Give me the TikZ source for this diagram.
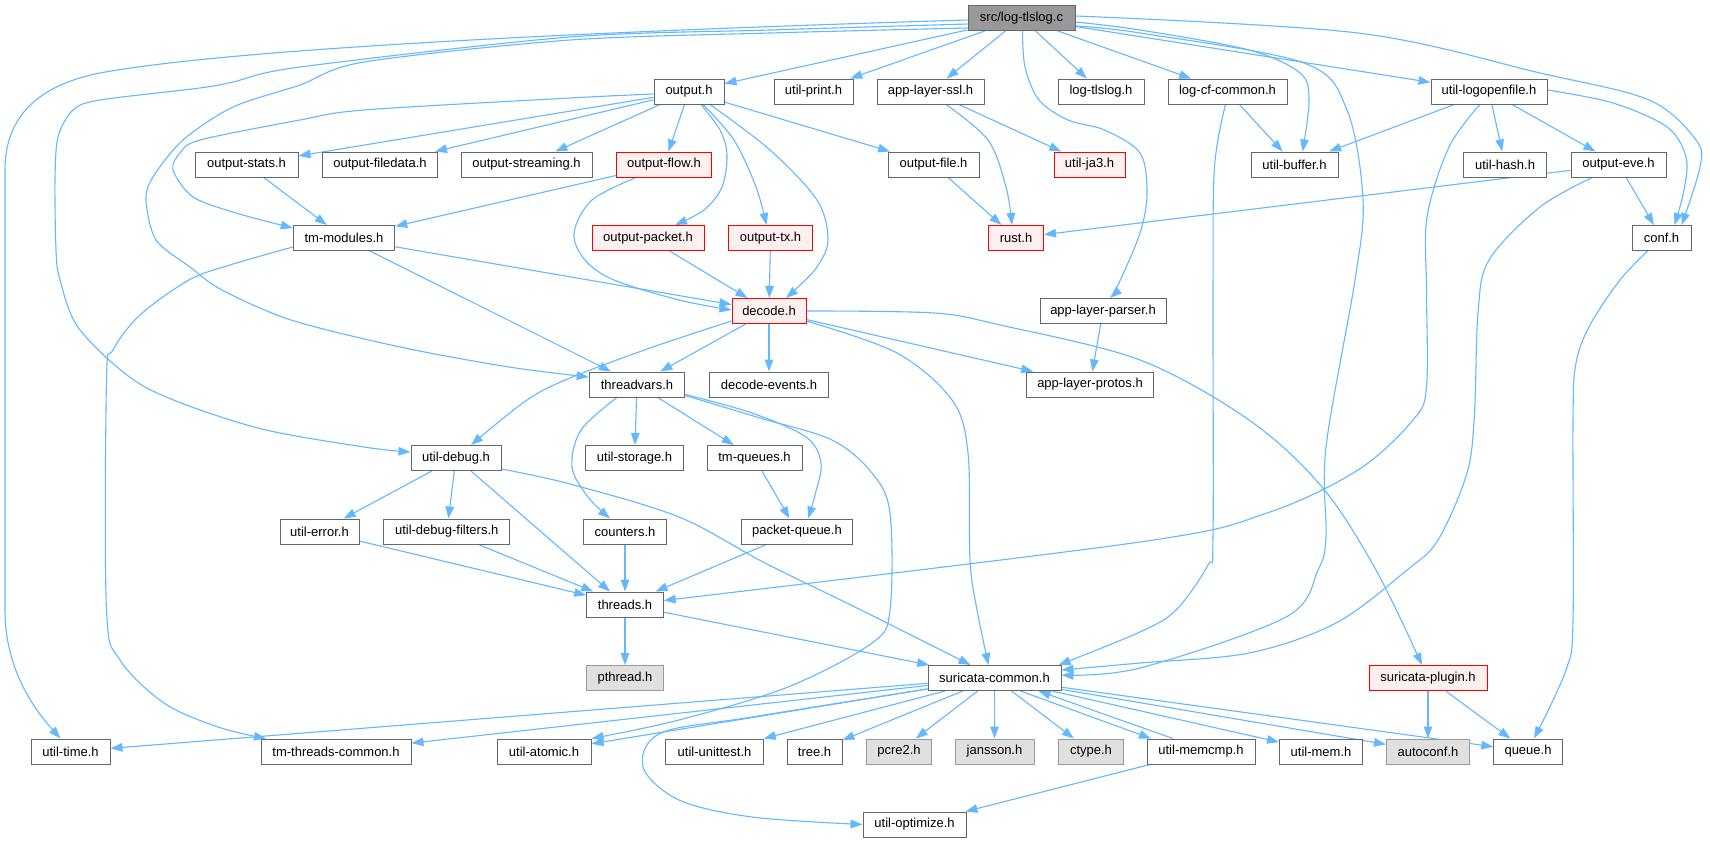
\documentclass[tikz,border=0pt]{standalone}
\usepackage{fontspec}
\setmainfont{Liberation Sans}
\usetikzlibrary{arrows.meta}
\pgfdeclarelayer{bg}
\pgfsetlayers{bg,main}
\definecolor{edgec}{HTML}{63B8FF}
\definecolor{bordc}{HTML}{666666}
\definecolor{rootfill}{HTML}{999999}
\definecolor{redb}{HTML}{FF0000}
\definecolor{redf}{HTML}{FFF0F0}
\definecolor{grayf}{HTML}{E0E0E0}
\definecolor{grayb}{HTML}{999999}
\tikzset{
  box/.style={draw=bordc, fill=white, line width=1pt, minimum height=25pt, inner sep=0pt, font=\fontsize{13}{15}\selectfont, text=black},
  rootbox/.style={box, fill=rootfill},
  redbox/.style={box, draw=redb, fill=redf},
  graybox/.style={box, draw=grayb, fill=grayf},
  edge/.style={draw=edgec, line width=1.1pt, -{Triangle[length=12pt,width=8.5pt]}}
}
\begin{document}
\begin{tikzpicture}[x=1pt,y=-1pt]
\useasboundingbox (0,0) rectangle (1710,843);
% nodes
\node[rootbox, minimum width=107pt] (root) at (1021.5,18) {src/log-tlslog.c};
\node[box, minimum width=70pt] (output) at (689,91.5) {output.h};
\node[box, minimum width=79pt] (uprint) at (813.5,91.5) {util-print.h};
\node[box, minimum width=107pt] (appssl) at (930.5,91.5) {app-layer-ssl.h};
\node[box, minimum width=86pt] (ltlsh) at (1101,91.5) {log-tlslog.h};
\node[box, minimum width=119pt] (logcf) at (1227.5,91.5) {log-cf-common.h};
\node[box, minimum width=116pt] (logopen) at (1489,91.5) {util-logopenfile.h};
\node[box, minimum width=103pt] (ostats) at (246.5,164.5) {output-stats.h};
\node[box, minimum width=115pt] (ofiledata) at (380,164.5) {output-filedata.h};
\node[box, minimum width=131pt] (ostream) at (526.5,164.5) {output-streaming.h};
\node[redbox, minimum width=95pt] (oflow) at (664,164.5) {output-flow.h};
\node[box, minimum width=91pt] (ofile) at (933.5,164.5) {output-file.h};
\node[redbox, minimum width=71pt] (ja3) at (1089.5,164.5) {util-ja3.h};
\node[box, minimum width=87pt] (ubuffer) at (1294.5,164.5) {util-buffer.h};
\node[box, minimum width=82.5pt] (uhash) at (1505,164.5) {util-hash.h};
\node[box, minimum width=95pt] (oeve) at (1618.5,164.5) {output-eve.h};
\node[box, minimum width=101.5pt] (tmmod) at (344,238) {tm-modules.h};
\node[redbox, minimum width=112pt] (opacket) at (648,238) {output-packet.h};
\node[redbox, minimum width=84pt] (otx) at (770.5,238) {output-tx.h};
\node[redbox, minimum width=55pt] (rust) at (1016,238) {rust.h};
\node[box, minimum width=59pt] (conf) at (1661.5,238) {conf.h};
\node[redbox, minimum width=74pt] (decode) at (769,311) {decode.h};
\node[box, minimum width=126pt] (aparser) at (1103,311) {app-layer-parser.h};
\node[box, minimum width=95.5pt] (threadvars) at (637,384.5) {threadvars.h};
\node[box, minimum width=119pt] (devents) at (769,384.5) {decode-events.h};
\node[box, minimum width=127pt] (aprotos) at (1090,384.5) {app-layer-protos.h};
\node[box, minimum width=90pt] (udebug) at (456,458) {util-debug.h};
\node[box, minimum width=98pt] (ustorage) at (634.5,458) {util-storage.h};
\node[box, minimum width=95pt] (tmqueues) at (754.5,458) {tm-queues.h};
\node[box, minimum width=79pt] (uerror) at (319.5,531.5) {util-error.h};
\node[box, minimum width=125.5pt] (udfilters) at (446.7,531.5) {util-debug-filters.h};
\node[box, minimum width=83pt] (counters) at (625,531.5) {counters.h};
\node[box, minimum width=111pt] (pqueue) at (797,531.5) {packet-queue.h};
\node[box, minimum width=76.5pt] (threads) at (625,604.5) {threads.h};
\node[graybox, minimum width=76.5pt] (pthread) at (625,678) {pthread.h};
\node[box, minimum width=133pt] (scommon) at (994.5,678) {suricata-common.h};
\node[redbox, minimum width=118pt] (splugin) at (1428,678) {suricata-plugin.h};
\node[box, minimum width=79pt] (utime) at (70.5,751.5) {util-time.h};
\node[box, minimum width=150pt] (tmtc) at (336,751.5) {tm-threads-common.h};
\node[box, minimum width=94pt] (uatomic) at (544,751.5) {util-atomic.h};
\node[box, minimum width=97.5pt] (uunittest) at (714.5,751.5) {util-unittest.h};
\node[box, minimum width=55pt] (tree) at (814.5,751.5) {tree.h};
\node[graybox, minimum width=65.5pt] (pcre) at (899,751.5) {pcre2.h};
\node[graybox, minimum width=79pt] (jansson) at (994.5,751.5) {jansson.h};
\node[graybox, minimum width=65.5pt] (ctype) at (1091,751.5) {ctype.h};
\node[box, minimum width=108pt] (umemcmp) at (1201,751.5) {util-memcmp.h};
\node[box, minimum width=83pt] (umem) at (1321,751.5) {util-mem.h};
\node[graybox, minimum width=83pt] (autoconf) at (1428,751.5) {autoconf.h};
\node[box, minimum width=68.5pt] (queue) at (1528,751.5) {queue.h};
\node[box, minimum width=103pt] (uoptimize) at (914.5,824.5) {util-optimize.h};
\begin{pgfonlayer}{bg}
\fill[white] (0,0) rectangle (1710,843);
% straight edges
\draw[edge] (root) -- (output);
\draw[edge] (root) -- (uprint);
\draw[edge] (root) -- (appssl);
\draw[edge] (root) -- (ltlsh);
\draw[edge] (root) -- (logcf);
\draw[edge] (root) -- (logopen);
\draw[edge] (output) -- (ostats);
\draw[edge] (output) -- (ofiledata);
\draw[edge] (output) -- (ostream);
\draw[edge] (output) -- (oflow);
\draw[edge] (output) -- (ofile);
\draw[edge] (ostats) -- (tmmod);
\draw[edge] (oflow) -- (tmmod);
\draw[edge] (opacket) -- (decode);
\draw[edge] (otx) -- (decode);
\draw[edge] (tmmod) -- (decode);
\draw[edge] (tmmod) -- (threadvars);
\draw[edge] (threadvars) -- (ustorage);
\draw[edge] (threadvars) -- (tmqueues);
\draw[edge] (decode) -- (threadvars);
\draw[edge] (decode) -- (devents);
\draw[edge] (decode) -- (aprotos);
\draw[edge] (udebug) -- (uerror);
\draw[edge] (udebug) -- (udfilters);
\draw[edge] (udebug) -- (threads);
\draw[edge] (uerror) -- (threads);
\draw[edge] (udfilters) -- (threads);
\draw[edge] (counters) -- (threads);
\draw[edge] (pqueue) -- (threads);
\draw[edge] (tmqueues) -- (pqueue);
\draw[edge] (logopen) -- (ubuffer);
\draw[edge] (logopen) -- (uhash);
\draw[edge] (logopen) -- (oeve);
\draw[edge] (oeve) -- (conf);
\draw[edge] (oeve) -- (rust);
\draw[edge] (logcf) -- (ubuffer);
\draw[edge] (appssl) -- (ja3);
\draw[edge] (ofile) -- (rust);
\draw[edge] (aparser) -- (aprotos);
\draw[edge] (threads) -- (pthread);
\draw[edge] (threads) -- (scommon);
\draw[edge] (scommon) -- (utime);
\draw[edge] (scommon) -- (tmtc);
\draw[edge] (scommon) -- (uatomic);
\draw[edge] (scommon) -- (uunittest);
\draw[edge] (scommon) -- (tree);
\draw[edge] (scommon) -- (pcre);
\draw[edge] (scommon) -- (jansson);
\draw[edge] (scommon) -- (ctype);
\draw[edge] (scommon) -- (umem);
\draw[edge] (scommon) -- (autoconf);
\draw[edge] (scommon) -- (queue);
\draw[edge] ([xshift=26pt]scommon.south) -- ([xshift=-50pt]umemcmp.north);
\draw[edge] ([xshift=-28pt]umemcmp.north) -- ([xshift=44pt]scommon.south);
\draw[edge] (umemcmp) -- (uoptimize);
\draw[edge] (splugin) -- (autoconf);
\draw[edge] (splugin) -- (queue);
% curved edges
\draw[edge] ([yshift=-2pt]root.west) .. controls (700,28) and (250,45) .. (100,73) .. controls (40,85) and (5,115) .. (5,170) -- (5,610) .. controls (5,670) and (35,710) .. ([xshift=-10pt]utime.north);
\draw[edge] plot[smooth, tension=0.5] coordinates {([yshift=-6pt]root.west) (770,30) (570,37) (300,67) (233,82) (200,88) (100,100) (73,110) (58,137) (55,180) (56,250) (60,280) (80,330) (145,387) (254,427) (364,447) ([yshift=6pt]udebug.west)};
\draw[edge] plot[smooth, tension=0.5] coordinates {([yshift=-10pt]root.west) (770,33) (570,40) (364,62) (300,85) (233,107) (183,140) (153,177) (146,200) (156,240) (190,267) (222,290) (291,320) (400,347) (509,367) ([yshift=7.5pt]threadvars.west)};
\draw[edge] plot[smooth, tension=0.55] coordinates {([yshift=-4pt]root.east) (1140,30) (1249,50) (1300,73) (1309,100) ([xshift=8pt]ubuffer.north)};
\draw[edge] plot[smooth, tension=0.55] coordinates {([yshift=-8pt]root.east) (1140,33) (1304,63) (1347,110) (1363,200) (1355,280) (1326,447) (1326,537) (1318,570) (1286,617) (1140,668) ([yshift=3pt]scommon.east)};
\draw[edge] plot[smooth, tension=0.55] coordinates {([yshift=2pt]root.east) (1358,33) (1540,73) (1649,100) (1696,140) (1700,167) ([xshift=20pt]conf.north)};
\draw[edge] plot[smooth, tension=0.55] coordinates {([xshift=1pt]root.south) (1025,67) (1039,100) (1068,120) (1104.5,130) (1140,153) (1147,193) (1140,233) (1118,285) ([xshift=7pt]aparser.north)};
\draw[edge] plot[smooth, tension=0.5] coordinates {([yshift=-2.5pt]output.west) (570,98) (364,110) (300,120) (200,140) (180,153) (173,170) (193,197) (236,213) ([yshift=10pt]tmmod.west)};
\draw[edge] plot[smooth, tension=0.55] coordinates {([xshift=12pt]output.south) (720,130) (727,155) (722,187) (704,210) ([xshift=27pt]opacket.north)};
\draw[edge] plot[smooth, tension=0.55] coordinates {([xshift=14pt]output.south) (734,140) (756,187) ([xshift=-4pt]otx.north)};
\draw[edge] plot[smooth, tension=0.55] coordinates {([xshift=21pt]output.south) (770,150) (817,200) (828,240) (817,267) (797,288) ([xshift=17pt]decode.north)};
\draw[edge] plot[smooth, tension=0.55] coordinates {([xshift=-28pt]oflow.south) (592,200) (574,233) (585,260) (614,280) (679,300) ([yshift=1pt]decode.west)};
\draw[edge] plot[smooth, tension=0.55] coordinates {([yshift=-9pt]tmmod.west) (230,265) (189,280) (140,315) (113,350) (106.5,380) (106.5,610) (120,660) (164,703) (218,727) ([xshift=-70pt]tmtc.north)};
\draw[edge] plot[smooth, tension=0.55] coordinates {([yshift=-10pt]threadvars.east) (752,413) (806,437) (821,463) (815,495) ([xshift=11pt]pqueue.north)};
\draw[edge] plot[smooth, tension=0.55] coordinates {([yshift=-11pt]threadvars.east) (760,418) (832,440) (872,473) (890,513) (890,610) (872,643) (788,687) (679,720) (uatomic.north east)};
\draw[edge] plot[smooth, tension=0.55] coordinates {([xshift=-20pt]threadvars.south) (581,430) (572,467) (588,497) ([xshift=-15pt]counters.north)};
\draw[edge] plot[smooth, tension=0.55] coordinates {([yshift=-10pt]decode.east) (897,353) (952,400) (968,453) (970,560) (977,610) ([xshift=-6pt]scommon.north)};
\draw[edge] plot[smooth, tension=0.55] coordinates {(decode.east) (934,313) (1000,325) (1140,360) (1249,420) (1322,487) (1376,570) ([xshift=-6pt]splugin.north)};
\draw[edge] plot[smooth, tension=0.55] coordinates {([yshift=-10pt]decode.west) (650,348) (570,378) (527,400) ([xshift=15pt]udebug.north)};
\draw[edge] plot[smooth, tension=0.55] coordinates {([yshift=-11pt]udebug.east) (570,484) (679,517) (765,563) (861,610) ([xshift=-24pt]scommon.north)};
\draw[edge] plot[smooth, tension=0.55] coordinates {([xshift=-9pt]logopen.south) (1449,147) (1427,217) (1426.5,290) (1426.5,387) (1413,420) (1358,470) (1267,513) (1140,542) ([yshift=4pt]threads.east)};
\draw[edge] plot[smooth, tension=0.55] coordinates {([yshift=1.5pt]logopen.east) (1613,103) (1667,127) (1686,157) (1684,190) ([xshift=13pt]conf.north)};
\draw[edge] plot[smooth, tension=0.55] coordinates {([xshift=-26pt]oeve.south) (1540,207) (1489,260) (1478,313) (1474.5,413) (1467,473) (1438,540) (1407,570) (1336,623) (1249,653) (1140,663) ([yshift=8pt]scommon.east)};
\draw[edge] plot[smooth, tension=0.55] coordinates {([xshift=-2pt]logcf.south) (1214.5,167) (1213,290) (1213,537) (1208,565) (1176,610) (1140,632) ([xshift=-3pt]scommon.north east)};
\draw[edge] plot[smooth, tension=0.55] coordinates {([xshift=15.5pt]appssl.south) (988,140) (1006,187) ([xshift=-4pt]rust.north)};
\draw[edge] plot[smooth, tension=0.55] coordinates {([yshift=-11pt]scommon.west) (752,717) (661,733) (643,767) (679,800) (752,817) (uoptimize.west)};
\draw[edge] plot[smooth, tension=0.55] coordinates {([xshift=-14pt]conf.south) (1620,280) (1590,325) (1576,363) (1573,420) (1573,620) (1566,670) ([xshift=6pt]queue.north)};
\end{pgfonlayer}
\end{tikzpicture}
\end{document}
